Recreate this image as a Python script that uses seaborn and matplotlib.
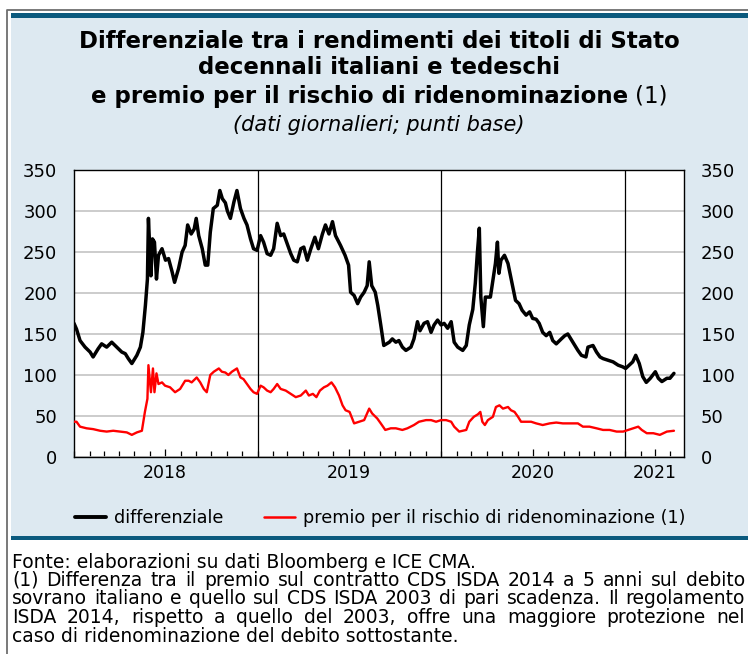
import pandas as pd
import matplotlib
matplotlib.use('Agg')
import matplotlib.pyplot as plt
import matplotlib.dates as mdates
from matplotlib.patches import Rectangle
from matplotlib.lines import Line2D
import seaborn as sns

# differenziale BTP-Bund (punti base)
diff_dates = ['2018-01-01', '2018-01-06', '2018-01-13', '2018-01-23', '2018-02-02', '2018-02-08', '2018-02-18',
              '2018-02-25', '2018-03-07', '2018-03-17', '2018-03-27', '2018-04-06', '2018-04-13', '2018-04-19',
              '2018-04-26', '2018-05-06', '2018-05-13', '2018-05-18', '2018-05-23', '2018-05-27', '2018-05-29',
              '2018-06-03', '2018-06-06', '2018-06-10', '2018-06-14', '2018-06-18', '2018-06-25', '2018-07-02',
              '2018-07-08', '2018-07-15', '2018-07-20', '2018-07-28', '2018-08-04', '2018-08-10', '2018-08-15',
              '2018-08-22', '2018-08-28', '2018-09-01', '2018-09-06', '2018-09-13', '2018-09-19', '2018-09-24',
              '2018-09-29', '2018-10-05', '2018-10-13', '2018-10-18', '2018-10-23', '2018-10-29', '2018-11-02',
              '2018-11-08', '2018-11-15', '2018-11-21', '2018-11-28', '2018-12-05', '2018-12-11', '2018-12-18',
              '2018-12-24', '2018-12-31',
              '2019-01-07', '2019-01-13', '2019-01-20', '2019-01-27', '2019-02-02', '2019-02-09', '2019-02-16',
              '2019-02-22', '2019-03-01', '2019-03-08', '2019-03-14', '2019-03-21', '2019-03-28', '2019-04-03',
              '2019-04-10', '2019-04-17', '2019-04-25', '2019-05-02', '2019-05-10', '2019-05-16', '2019-05-23',
              '2019-05-30', '2019-06-05', '2019-06-15', '2019-06-24', '2019-07-01', '2019-07-05', '2019-07-12',
              '2019-07-19', '2019-07-25', '2019-08-01', '2019-08-07', '2019-08-11', '2019-08-16', '2019-08-23',
              '2019-08-28', '2019-09-03', '2019-09-09', '2019-09-20', '2019-09-26', '2019-10-03', '2019-10-09',
              '2019-10-16', '2019-10-23', '2019-11-02', '2019-11-08', '2019-11-15', '2019-11-20', '2019-11-28',
              '2019-12-05', '2019-12-12', '2019-12-18', '2019-12-25',
              '2020-01-01', '2020-01-07', '2020-01-14', '2020-01-21', '2020-01-27', '2020-02-03', '2020-02-13',
              '2020-02-20', '2020-02-26', '2020-03-04', '2020-03-09', '2020-03-13', '2020-03-17', '2020-03-20',
              '2020-03-25', '2020-03-29', '2020-04-08', '2020-04-18', '2020-04-22', '2020-04-25', '2020-04-29',
              '2020-05-06', '2020-05-13', '2020-05-21', '2020-05-28', '2020-06-04', '2020-06-10', '2020-06-18',
              '2020-06-25', '2020-07-01', '2020-07-08', '2020-07-14', '2020-07-21', '2020-07-28', '2020-08-04',
              '2020-08-10', '2020-08-17', '2020-08-27', '2020-09-03', '2020-09-09', '2020-09-19', '2020-09-29',
              '2020-10-06', '2020-10-15', '2020-10-19', '2020-10-29', '2020-11-05', '2020-11-12', '2020-11-18',
              '2020-11-28', '2020-12-08', '2020-12-18', '2020-12-27',
              '2021-01-02', '2021-01-09', '2021-01-16', '2021-01-22', '2021-01-29', '2021-02-05', '2021-02-12',
              '2021-02-20', '2021-03-02', '2021-03-08', '2021-03-15', '2021-03-25', '2021-03-31', '2021-04-08']
diff_vals = [163, 156, 142, 134, 128, 122, 132, 138, 134, 140, 134, 128, 126, 120, 114, 124, 134, 152, 185, 217, 291,
             221, 266, 262, 217, 246, 254, 240, 242, 226, 213, 230, 250, 258, 283, 272, 278, 291, 270, 254, 234, 234,
             274, 303, 307, 325, 315, 310, 300, 291, 311, 325, 303, 291, 283, 266, 254, 252,
             270, 262, 248, 246, 254, 285, 270, 272, 260, 248, 240, 238, 254, 256, 240, 254, 268, 254, 272, 283,
             272, 287, 270, 258, 246, 234, 201, 197, 187, 195, 201, 209, 238, 209, 201, 185, 161, 136, 140, 144,
             140, 142, 134, 130, 134, 144, 165, 154, 163, 165, 152, 161, 167,
             161, 163, 157, 165, 140, 134, 130, 136, 161, 180, 212, 248, 279, 195, 159, 195, 195, 236, 262, 224,
             240, 246, 236, 212, 191, 187, 179, 173, 177, 169, 168, 163, 152, 148, 152, 142, 138, 144, 148, 150,
             140, 130, 124, 122, 134, 136, 128, 122, 120, 118, 116, 112, 110,
             108, 112, 116, 124, 114, 98, 91, 96, 104, 96, 92, 96, 96, 102]

# premio per il rischio di ridenominazione (punti base)
prem_dates = ['2018-01-01', '2018-01-06', '2018-01-13', '2018-01-26', '2018-02-08', '2018-02-22', '2018-03-07',
              '2018-03-20', '2018-04-02', '2018-04-16', '2018-04-26', '2018-05-06', '2018-05-16', '2018-05-22',
              '2018-05-27', '2018-05-29', '2018-06-03', '2018-06-07', '2018-06-10', '2018-06-14', '2018-06-18',
              '2018-06-25', '2018-07-01', '2018-07-11', '2018-07-21', '2018-07-31', '2018-08-10', '2018-08-17',
              '2018-08-23', '2018-09-02', '2018-09-09', '2018-09-16', '2018-09-22', '2018-09-29', '2018-10-06',
              '2018-10-16', '2018-10-22', '2018-10-29', '2018-11-04', '2018-11-11', '2018-11-21', '2018-11-28',
              '2018-12-04', '2018-12-11', '2018-12-18', '2018-12-24', '2018-12-31',
              '2019-01-07', '2019-01-13', '2019-01-20', '2019-01-27', '2019-02-02', '2019-02-09', '2019-02-16',
              '2019-02-26', '2019-03-08', '2019-03-18', '2019-03-28', '2019-04-07', '2019-04-13', '2019-04-21',
              '2019-04-28', '2019-05-05', '2019-05-13', '2019-05-20', '2019-05-28', '2019-06-04', '2019-06-12',
              '2019-06-19', '2019-06-25', '2019-07-03', '2019-07-12', '2019-07-22', '2019-08-01', '2019-08-11',
              '2019-08-17', '2019-08-27', '2019-09-03', '2019-09-12', '2019-09-23', '2019-10-03', '2019-10-16',
              '2019-10-26', '2019-11-08', '2019-11-18', '2019-12-02', '2019-12-12', '2019-12-22',
              '2020-01-01', '2020-01-11', '2020-01-21', '2020-01-27', '2020-02-06', '2020-02-20', '2020-02-26',
              '2020-03-06', '2020-03-14', '2020-03-19', '2020-03-23', '2020-03-28', '2020-04-03', '2020-04-13',
              '2020-04-19', '2020-04-26', '2020-05-03', '2020-05-13', '2020-05-19', '2020-05-26', '2020-06-02',
              '2020-06-08', '2020-06-18', '2020-06-28', '2020-07-08', '2020-07-21', '2020-08-04', '2020-08-17',
              '2020-08-30', '2020-09-12', '2020-09-29', '2020-10-09', '2020-10-22', '2020-11-05', '2020-11-18',
              '2020-12-01', '2020-12-15', '2020-12-28',
              '2021-01-07', '2021-01-17', '2021-01-27', '2021-02-03', '2021-02-13', '2021-02-26', '2021-03-11',
              '2021-03-25', '2021-04-08']
prem_vals = [43, 43, 37, 35, 34, 32, 31, 32, 31, 30, 27, 30, 32, 55, 71, 112, 79, 108, 79, 102, 89, 91, 87, 85, 79,
             83, 93, 93, 91, 97, 91, 83, 79, 100, 104, 108, 104, 103, 100, 104, 108, 97, 95, 89, 83, 79, 77,
             87, 85, 81, 79, 83, 89, 83, 81, 77, 73, 75, 81, 75, 77, 73, 81, 85, 87, 91, 85, 75, 63, 57, 55, 41,
             43, 45, 59, 53, 47, 41, 33, 35, 35, 33, 35, 39, 43, 45, 45, 43,
             45, 45, 43, 37, 31, 33, 43, 49, 52, 55, 43, 39, 45, 49, 61, 63, 59, 61, 57, 55, 49, 43, 43, 43, 41,
             39, 41, 42, 41, 41, 41, 37, 37, 35, 33, 33, 31, 31,
             33, 35, 37, 33, 29, 29, 27, 31, 32]

year_labels = ['2018', '2019', '2020', '2021']
year_label_dates = ['2018-07-01', '2019-07-01', '2020-07-01', '2021-03-01']
year_starts = ['2019-01-01', '2020-01-01', '2021-01-01']
y_ticks = [0, 50, 100, 150, 200, 250, 300, 350]

title_lines = ['Differenziale tra i rendimenti dei titoli di Stato',
               'decennali italiani e tedeschi',
               'e premio per il rischio di ridenominazione']
subtitle = '(dati giornalieri; punti base)'
legend_labels = ['differenziale', 'premio per il rischio di ridenominazione (1)']
note_lines = ['Fonte: elaborazioni su dati Bloomberg e ICE CMA.',
              '(1) Differenza tra il premio sul contratto CDS ISDA 2014 a 5 anni sul debito',
              'sovrano italiano e quello sul CDS ISDA 2003 di pari scadenza. Il regolamento',
              'ISDA 2014, rispetto a quello del 2003, offre una maggiore protezione nel',
              'caso di ridenominazione del debito sottostante.']

sns.set_style('white')
plt.rcParams['font.family'] = ['DejaVu Sans']
plt.rcParams['text.color'] = 'black'
plt.rcParams['xtick.color'] = 'black'
plt.rcParams['ytick.color'] = 'black'

W, H = 748, 654
fig = plt.figure(figsize=(W / 100, H / 100), dpi=100)


def fx(px):
    return px / W


def fy(py):
    return 1 - py / H


# sfondo del riquadro
panel_col = '#dde9f1'
bar_col = '#0b5a7e'
fig.patches.append(Rectangle((fx(11), fy(538)), fx(748) - fx(11), fy(14) - fy(538),
                             transform=fig.transFigure, facecolor=panel_col, edgecolor='none', zorder=-2))
fig.patches.append(Rectangle((fx(11), fy(17.5)), fx(748) - fx(11), 4 / H,
                             transform=fig.transFigure, facecolor=bar_col, edgecolor='none', zorder=-1))
fig.patches.append(Rectangle((fx(11), fy(540)), fx(748) - fx(11), 4.5 / H,
                             transform=fig.transFigure, facecolor=bar_col, edgecolor='none', zorder=-1))
fig.lines.append(Line2D([fx(7), fx(7), fx(748)], [fy(654), fy(10), fy(10)], transform=fig.transFigure,
                        color='#6e6e6e', lw=1.3))

ax = fig.add_axes([fx(74), fy(457), fx(684) - fx(74), fy(170) - fy(457)])
ax.set_facecolor('white')

df_diff = pd.DataFrame({'data': pd.to_datetime(diff_dates), 'valore': diff_vals})
df_prem = pd.DataFrame({'data': pd.to_datetime(prem_dates), 'valore': prem_vals})
sns.lineplot(data=df_diff, x='data', y='valore', ax=ax, color='black', lw=2.5, zorder=3)
sns.lineplot(data=df_prem, x='data', y='valore', ax=ax, color='#ff0000', lw=1.7, zorder=3)

ax.set_xlim(pd.Timestamp('2018-01-01'), pd.Timestamp('2021-04-28'))
ax.set_ylim(0, 350)
ax.set_xlabel('')
ax.set_ylabel('')
ax.set_yticks(y_ticks)
ax.yaxis.grid(True, color='#c4c4c4', lw=1.2)
ax.xaxis.grid(False)
ax.set_axisbelow(True)
for d in year_starts:
    ax.axvline(pd.Timestamp(d), color='black', lw=0.9, zorder=2)

ax.set_xticks(pd.to_datetime(year_label_dates))
ax.set_xticklabels(year_labels)
ax.xaxis.set_minor_locator(mdates.MonthLocator())
ax.tick_params(axis='x', which='major', direction='in', length=6, width=0.9, color='black',
               labelsize=12.5, pad=5, bottom=True)
ax.tick_params(axis='x', which='minor', direction='in', length=4.5, width=0.9, color='black', bottom=True)
ax.tick_params(axis='y', which='both', length=0, labelsize=13, labelleft=True, labelright=True, pad=12)
for s in ax.spines.values():
    s.set_color('black')
    s.set_linewidth(1.0)

# titolo
cx = 379
tsize = 16.5
fig.text(fx(cx), fy(41), title_lines[0], ha='center', va='center', fontsize=tsize, fontweight='bold')
fig.text(fx(cx), fy(68), title_lines[1], ha='center', va='center', fontsize=tsize, fontweight='bold')
t3a = fig.text(0, fy(96), title_lines[2], ha='left', va='center', fontsize=tsize, fontweight='bold')
t3b = fig.text(0, fy(96), '(1)', ha='left', va='center', fontsize=tsize)
fig.text(fx(cx), fy(125), subtitle, ha='center', va='center', fontsize=15, fontstyle='italic')

fig.canvas.draw()
r = fig.canvas.get_renderer()
wa = t3a.get_window_extent(r).width
wb = t3b.get_window_extent(r).width
gap = 7
x0 = cx - (wa + gap + wb) / 2
t3a.set_x(fx(x0))
t3b.set_x(fx(x0 + wa + gap))

# legenda
handles = [Line2D([], [], color='black', lw=2.8), Line2D([], [], color='#ff0000', lw=1.8)]
fig.legend(handles, legend_labels, loc='center', bbox_to_anchor=(fx(380), fy(518)), ncol=2, frameon=False,
           fontsize=12.7, handlelength=1.75, handletextpad=0.45, columnspacing=2.3)

# note, giustificate come nell'originale
note_y = [562, 580.5, 599, 617.5, 636]
nsize = 13.5
right_edge = 745
for i, line in enumerate(note_lines):
    if i in (1, 2, 3):
        words = line.split(' ')
        objs = [fig.text(0, fy(note_y[i]), w, ha='left', va='center', fontsize=nsize) for w in words]
        widths = [o.get_window_extent(r).width for o in objs]
        space = (right_edge - 12 - sum(widths)) / (len(words) - 1)
        xpos = 12
        for o, w in zip(objs, widths):
            o.set_x(fx(xpos))
            xpos += w + space
    else:
        fig.text(fx(12), fy(note_y[i]), line, ha='left', va='center', fontsize=nsize)

fig.savefig('out.png', dpi=100)
